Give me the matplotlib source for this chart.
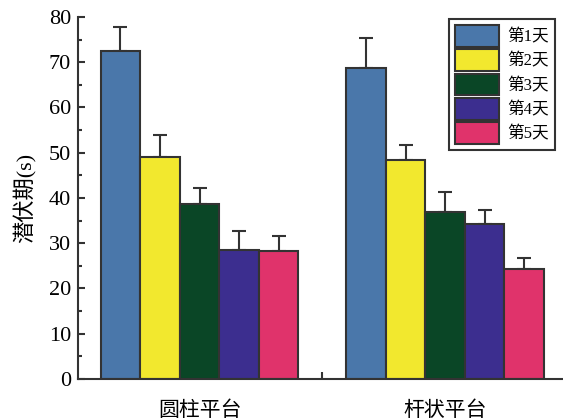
import numpy as np
import matplotlib.pyplot as plt
from matplotlib.ticker import MultipleLocator, FixedLocator

plt.rcParams['font.family'] = ['Liberation Serif', 'Noto Sans CJK SC']

# latency per platform and training day
groups = ['圆柱平台', '杆状平台']
days = ['第1天', '第2天', '第3天', '第4天', '第5天']
means = [
    [72.5, 68.7],
    [49.0, 48.3],
    [38.6, 36.9],
    [28.5, 34.2],
    [28.3, 24.4],
]
errs = [
    [5.3, 6.6],
    [5.0, 3.5],
    [3.7, 4.4],
    [4.2, 3.2],
    [3.3, 2.3],
]
colors = ['#4a77aa', '#f2e82e', '#0a4626', '#3c2e8f', '#e0336b']

fig = plt.figure(figsize=(5.63, 4.2), dpi=100)
ax = fig.add_axes([0.1385, 0.0976, 0.8615, 0.862])

x = np.arange(len(groups))
w = 0.161
for i, day in enumerate(days):
    pos = x + (i - 2) * w
    ax.bar(pos, means[i], w, color=colors[i], edgecolor='#333333',
           linewidth=1.5, label=day, zorder=2)
    ax.errorbar(pos, means[i], yerr=[np.zeros(len(groups)), errs[i]],
                fmt='none', ecolor='#333333', elinewidth=1.5,
                capsize=5, capthick=1.5, zorder=1)

ax.set_xlim(-0.495, 1.48)
ax.set_ylim(0, 80)
ax.spines['top'].set_visible(False)
ax.spines['right'].set_visible(False)
for s in ['left', 'bottom']:
    ax.spines[s].set_linewidth(1.5)
    ax.spines[s].set_color('#333333')

ax.yaxis.set_major_locator(MultipleLocator(10))
ax.yaxis.set_minor_locator(MultipleLocator(5))
ax.tick_params(axis='y', which='major', direction='in', length=5, width=1.5,
               labelsize=16, color='#333333', pad=5)
ax.tick_params(axis='y', which='minor', direction='in', length=3, width=1.5,
               color='#333333')
ax.set_xticks(x)
ax.set_xticklabels(groups, fontsize=15)
ax.tick_params(axis='x', which='major', length=0, pad=16)
ax.xaxis.set_minor_locator(FixedLocator([0.5]))
ax.tick_params(axis='x', which='minor', direction='in', length=5, width=1.5,
               color='#333333')
ax.set_ylabel('潜伏期(s)', fontsize=16, labelpad=9)

leg = ax.legend(loc='upper right', bbox_to_anchor=(0.983, 0.995),
                borderaxespad=0, fontsize=12, handlelength=2.65,
                handleheight=1.65, labelspacing=0.15, handletextpad=0.5,
                fancybox=False, framealpha=1, edgecolor='#333333',
                borderpad=0.35)
leg.get_frame().set_linewidth(1.5)

fig.savefig('out.png', dpi=100)
